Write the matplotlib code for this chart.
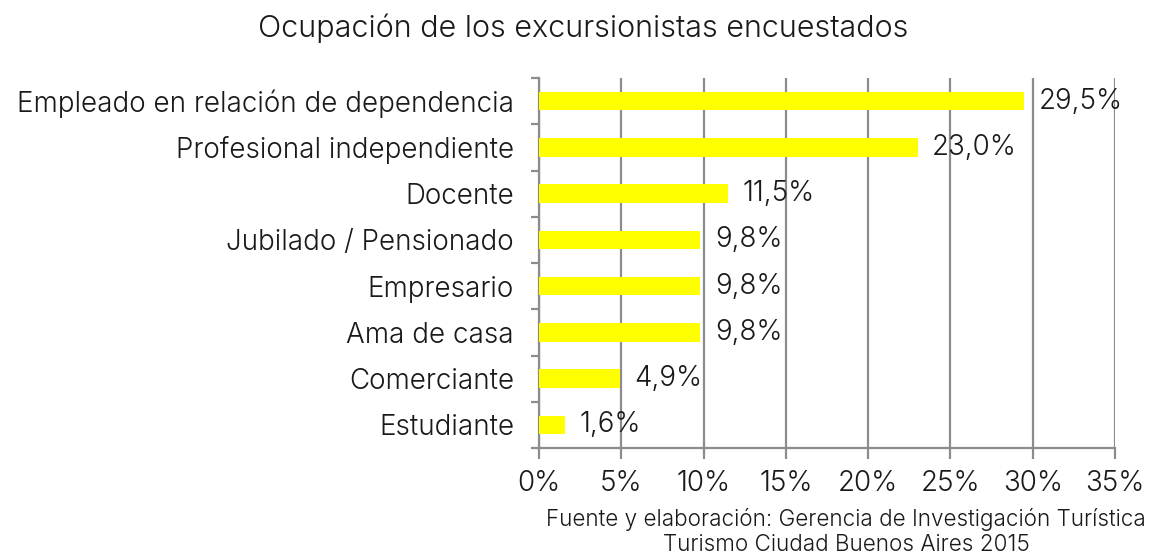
import matplotlib
matplotlib.use("Agg")
import matplotlib.pyplot as plt
from matplotlib.ticker import FixedLocator

categories = ["Empleado en relación de dependencia", "Profesional independiente", "Docente",
              "Jubilado / Pensionado", "Empresario", "Ama de casa", "Comerciante", "Estudiante"]
values = [29.5, 23.0, 11.5, 9.8, 9.8, 9.8, 4.9, 1.6]
value_labels = ["29,5%", "23,0%", "11,5%", "9,8%", "9,8%", "9,8%", "4,9%", "1,6%"]
xticks = [0, 5, 10, 15, 20, 25, 30, 35]
xtick_labels = ["0%", "5%", "10%", "15%", "20%", "25%", "30%", "35%"]
title = "Ocupación de los excursionistas encuestados"
footer = "Fuente y elaboración: Gerencia de Investigación Turística\nTurismo Ciudad Buenos Aires 2015"

plt.rcParams['font.family'] = ['Inter', 'DejaVu Sans']
plt.rcParams['font.weight'] = 300

FS = 20
TC = "#1a1a1a"
W, H = 1151, 556
fig = plt.figure(figsize=(W/100, H/100), dpi=100)
ax = fig.add_axes([539/W, 1-448/H, (1115-539)/W, (448-78)/H])

n = len(categories)
ypos = list(range(n))
ax.barh(ypos, values, height=0.4, color="#FFFF00", zorder=3)
ax.set_ylim(n-0.5, -0.5)
ax.set_xlim(0, 35)

grid_c = "#8c8c8c"
ax.set_xticks(xticks)
ax.set_xticklabels(xtick_labels, fontsize=FS, color=TC)
ax.xaxis.grid(True, color=grid_c, linewidth=1.6, zorder=0)
ax.set_yticks(ypos)
ax.set_yticklabels(categories, fontsize=FS, color=TC)
ax.yaxis.set_minor_locator(FixedLocator([i-0.5 for i in range(n+1)]))
ax.tick_params(axis='y', which='major', length=0, pad=18)
ax.tick_params(axis='y', which='minor', length=6, width=1.6, color=grid_c)
ax.tick_params(axis='x', which='major', length=8, width=1.6, color=grid_c, pad=8)

for s in ["top", "right"]:
    ax.spines[s].set_visible(False)
for s in ["left", "bottom"]:
    ax.spines[s].set_color(grid_c)
    ax.spines[s].set_linewidth(1.6)

for y, v, lab in zip(ypos, values, value_labels):
    ax.annotate(lab, xy=(v, y), xytext=(10.5, 0), textcoords="offset points",
                va="center", ha="left", fontsize=FS, color=TC, zorder=4)

fig.text(583/W, 1-28/H, title, ha="center", va="center", fontsize=22, color=TC)
fig.text(846/W, 1-532/H, footer, ha="center", va="center", fontsize=16.2, color=TC,
         linespacing=1.12)

fig.savefig("out.png", dpi=100)
